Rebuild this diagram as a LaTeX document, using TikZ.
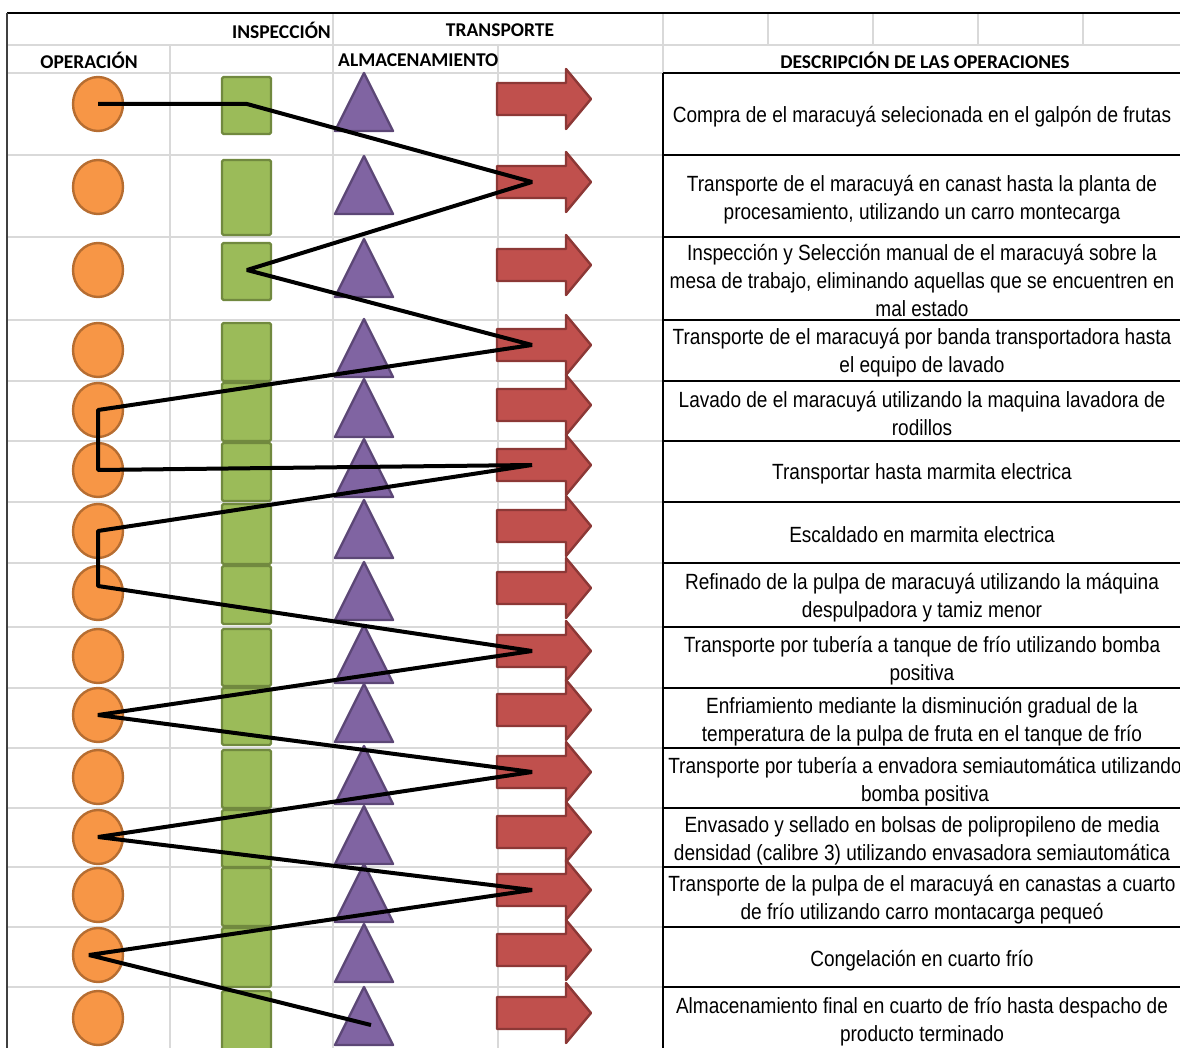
\documentclass[tikz,border=0pt]{standalone}
\usepackage{fontspec}
\usepackage{tikz}
\usetikzlibrary{calc}
\newfontfamily\descfont[FakeStretch=0.865]{Liberation Sans}
\newfontfamily\headfont{Carlito}
\definecolor{opfill}{HTML}{F79646}
\definecolor{opline}{HTML}{B66D31}
\definecolor{insfill}{HTML}{9BBB59}
\definecolor{insline}{HTML}{71893F}
\definecolor{almfill}{HTML}{8064A2}
\definecolor{almline}{HTML}{5C4776}
\definecolor{trafill}{HTML}{C0504D}
\definecolor{traline}{HTML}{8C3836}
\definecolor{gridgray}{HTML}{D9D9D9}

\begin{document}
\begin{tikzpicture}[x=1pt, y=-1pt, line join=round,
    gridline/.style={draw=gridgray, line width=2pt},
    boxline/.style={draw=black, line width=2.6pt},
    shapeline/.style={line width=2.4pt},
    head/.style={font=\headfont\bfseries\fontsize{19.5}{21}\selectfont, inner sep=0pt},
    desc/.style={font=\descfont\fontsize{22}{28}\selectfont, align=center, inner sep=0pt, yshift=-2.5pt}]
    \useasboundingbox (0,0) rectangle (1180,1048);

    % 网格线
    \foreach \y in {45,73,155,237,320,381,441,502,563,627,688,748,808,867,927,987}
        \draw[gridline] (7,\y) -- (663,\y);
    \draw[gridline] (663,45) -- (1180,45);
    \draw[gridline] (170,45) -- (170,1048);
    \draw[gridline] (333,13) -- (333,1048);
    \draw[gridline] (498,45) -- (498,1048);
    \foreach \x in {663,768,873,978,1083}
        \draw[gridline] (\x,13) -- (\x,45);
    \draw[gridline] (663,45) -- (663,73);

    % 外框
    \draw[line width=1.6pt] (7,13) -- (1180,13);
    \draw[line width=1.4pt, black!75] (7,13) -- (7,1048);

    % 表头
    \node[head, anchor=east] (hins) at (331,30) {INSPECCIÓN};
    \node[head] (htra) at (500,30) {TRANSPORTE};
    \node[head] (hop) at (89,60) {OPERACIÓN};
    \node[head, anchor=west] (halm) at (338,60) {ALMACENAMIENTO};
    \node[head] (hdesc) at (925,60) {DESCRIPCIÓN DE LAS OPERACIONES};

    % 符号：圆、矩形、三角形、箭头
    \foreach \cy/\rh [count=\i] in {104/57,187/75,270/57,350/58,410/58,470/58,531/60,593/58,
                                    656/57,715/57,777/58,837/57,895/58,955/59,1018/60} {
        \draw[shapeline, draw=opline, fill=opfill] (98,\cy) ellipse [x radius=25, y radius=27];
        \coordinate (op\i) at (98,\cy);
        \draw[shapeline, draw=insline, fill=insfill, rounded corners=1.5pt]
            (222,{\cy-27}) rectangle (271,{\cy-27+\rh});
        \coordinate (ins\i) at (247,\cy);
        \draw[shapeline, draw=almline, fill=almfill]
            (335,{\cy+27}) -- (364,{\cy-31}) -- (393,{\cy+27}) -- cycle;
        \coordinate (alm\i) at (364,\cy);
        \draw[shapeline, draw=traline, fill=trafill]
            (497,{\cy-21}) -- (566,{\cy-21}) -- (566,{\cy-35}) -- (591,{\cy-5})
            -- (566,{\cy+25}) -- (566,{\cy+11}) -- (497,{\cy+11}) -- cycle;
        \coordinate (tra\i) at (532,{\cy-5});
    }

    % 描述栏
    \draw[boxline] (663,73) -- (663,1048);
    \foreach \y in {73,155,237,320,381,441,502,563,627,688,748,808,867,927,987}
        \draw[boxline] (663,\y) -- (1180,\y);
    \foreach \tx/\ty/\txt [count=\i] in {
        922/114/{Compra de el maracuyá selecionada en el galpón de frutas},
        922/197/{Transporte de el maracuyá en canast hasta la planta de\\procesamiento, utilizando un carro montecarga},
        922/278/{Inspección y Selección manual de el maracuyá sobre la\\mesa de trabajo, eliminando aquellas que se encuentren en\\mal estado},
        922/350/{Transporte de el maracuyá por banda transportadora hasta\\el equipo de lavado},
        922/411/{Lavado de el maracuyá utilizando la maquina lavadora de\\rodillos},
        922/471/{Transportar hasta marmita electrica},
        922/532/{Escaldado en marmita electrica},
        922/595/{Refinado de la pulpa de maracuyá utilizando la máquina\\despulpadora y tamiz menor},
        922/658/{Transporte por tubería a tanque de frío utilizando bomba\\positiva},
        922/719/{Enfriamiento mediante la disminución gradual de la\\temperatura de la pulpa de fruta en el tanque de frío},
        925/779/{Transporte por tubería a envadora semiautomática utilizando\\bomba positiva},
        922/838/{Envasado y sellado en bolsas de polipropileno de media\\densidad (calibre 3) utilizando envasadora semiautomática},
        922/897/{Transporte de la pulpa de el maracuyá en canastas a cuarto\\de frío utilizando carro montacarga pequeó},
        922/958/{Congelación en cuarto frío},
        922/1019/{Almacenamiento final en cuarto de frío hasta despacho de\\producto terminado}}
        \node[desc] (desc\i) at (\tx,\ty) {\txt};

    % 流程连线
    \draw[line width=4pt, line join=bevel]
        (op1) -- (ins1) -- (tra2) -- (ins3) -- (tra4) -- (op5) -- (op6) -- (tra6)
        -- (op7) -- ([yshift=7pt]op8) -- (tra9) -- (op10) -- (tra11) -- (op12)
        -- (tra13) -- ([xshift=-9pt]op14) -- ([xshift=7pt,yshift=-7pt]alm15);
\end{tikzpicture}
\end{document}
